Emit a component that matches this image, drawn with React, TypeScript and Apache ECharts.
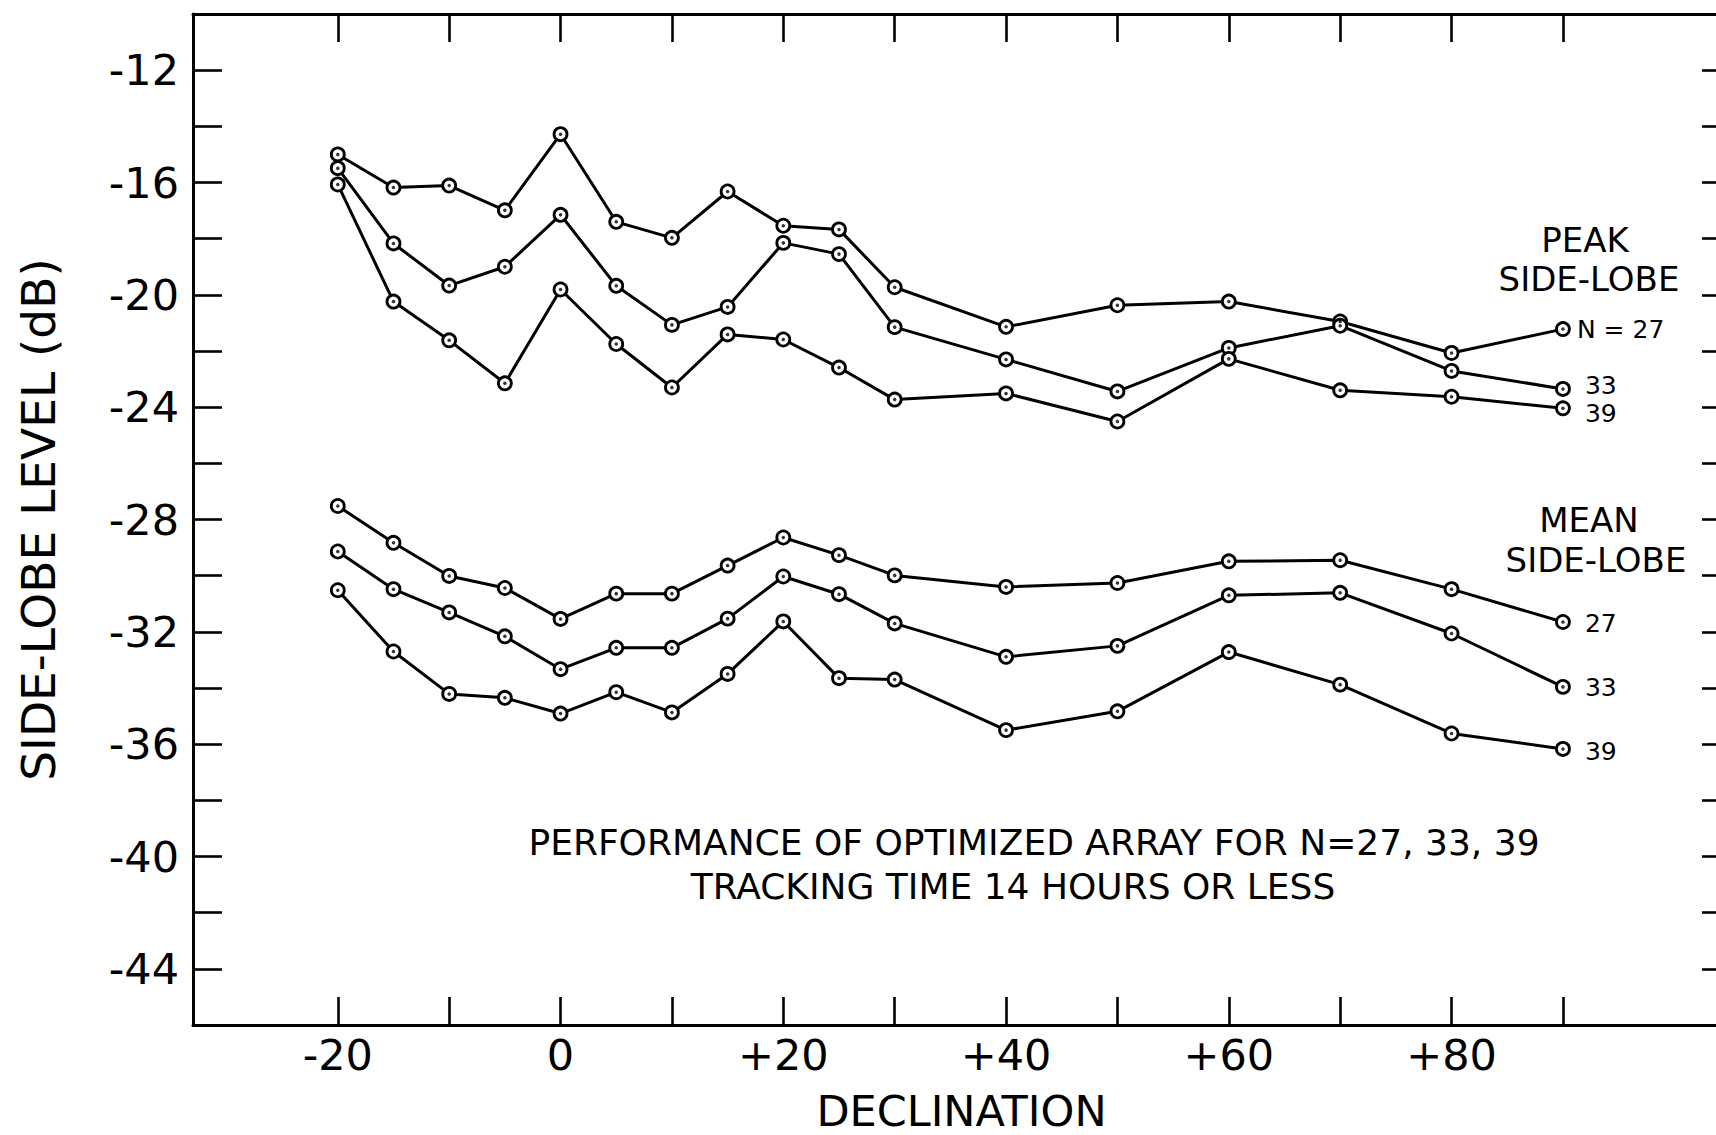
import React, { useEffect, useRef } from "react";
import * as echarts from "echarts";

const declination = [-20, -15, -10, -5, 0, 5, 10, 15, 20, 25, 30, 40, 50, 60, 70, 80, 90];

const peak27 = [-15.0, -16.18, -16.11, -16.99, -14.28, -17.4, -17.97, -16.32, -17.54, -17.67, -19.73, -21.14, -20.37, -20.24, -20.95, -22.07, -21.22];
const peak33 = [-15.49, -18.17, -19.67, -19.0, -17.15, -19.68, -21.07, -20.43, -18.15, -18.55, -21.15, -22.3, -23.44, -21.89, -21.1, -22.71, -23.35];
const peak39 = [-16.07, -20.24, -21.62, -23.15, -19.81, -21.75, -23.3, -21.41, -21.59, -22.59, -23.73, -23.51, -24.51, -22.28, -23.4, -23.63, -24.04];
const mean27 = [-27.52, -28.83, -30.01, -30.44, -31.54, -30.64, -30.64, -29.64, -28.64, -29.27, -29.99, -30.4, -30.26, -29.49, -29.45, -30.48, -31.65];
const mean33 = [-29.14, -30.48, -31.31, -32.16, -33.33, -32.57, -32.57, -31.53, -30.03, -30.66, -31.7, -32.89, -32.5, -30.7, -30.61, -32.06, -33.96];
const mean39 = [-30.52, -32.7, -34.21, -34.35, -34.91, -34.15, -34.87, -33.5, -31.63, -33.65, -33.7, -35.5, -34.83, -32.72, -33.88, -35.62, -36.17];

const seriesNames = ["Peak N=27", "Peak N=33", "Peak N=39", "Mean N=27", "Mean N=33", "Mean N=39"];
const endLabels = ["N = 27", "33", "39", "27", "33", "39"];

const xTickValues = [-20, -10, 0, 10, 20, 30, 40, 50, 60, 70, 80, 90];
const xLabelValues = [-20, 0, 20, 40, 60, 80];
const yTickValues = [-44, -42, -40, -38, -36, -34, -32, -30, -28, -26, -24, -22, -20, -18, -16, -14, -12];
const yLabelValues = [-44, -40, -36, -32, -28, -24, -20, -16, -12];

const FONT = "DejaVu Sans";

export default function App() {
  const ref = useRef<HTMLDivElement>(null);

  useEffect(() => {
    if (!ref.current) return;
    const chart = echarts.init(ref.current, undefined, { renderer: "svg" });

    const allSeries = [peak27, peak33, peak39, mean27, mean33, mean39];
    const labelDist = [14, 22, 22, 22, 22, 22];
    const labelOffset = [
      [0, 0],
      [0, -3],
      [0, 5],
      [0, 1],
      [0, 1],
      [0, 3],
    ];

    const lineSeries: any[] = [];
    allSeries.forEach((vals, i) => {
      const data = declination.map((d, j) => [d, vals[j]]);
      lineSeries.push({
        type: "line",
        name: seriesNames[i],
        data,
        symbol: "circle",
        symbolSize: 13,
        showAllSymbol: true,
        itemStyle: { color: "#fff", borderColor: "#000", borderWidth: 2.8 },
        lineStyle: { color: "#000", width: 3 },
        endLabel: {
          show: true,
          formatter: endLabels[i],
          distance: labelDist[i],
          offset: labelOffset[i],
          color: "#000",
          fontSize: 25,
          lineHeight: 20,
          fontFamily: FONT,
        },
        z: 3,
      });
      lineSeries.push({
        type: "scatter",
        name: seriesNames[i] + " centre",
        data,
        symbol: "circle",
        symbolSize: 3.5,
        itemStyle: { color: "#000" },
        silent: true,
        z: 5,
      });
    });

    const axisLine = { show: true, onZero: false, lineStyle: { color: "#000", width: 3 } };
    const tickStyle = { color: "#000", width: 2.6 };

    const textEl = (text: string, x: number, y: number, size: number) => ({
      type: "text",
      x,
      y,
      silent: true,
      style: {
        text,
        fill: "#000",
        font: `${size}px "${FONT}"`,
        lineHeight: Math.round(size * 0.9),
        align: "center",
        verticalAlign: "middle",
        textAlign: "center",
        textVerticalAlign: "middle",
      },
      z: 10,
    });

    chart.setOption({
      animation: false,
      backgroundColor: "#fff",
      grid: {
        left: 193,
        top: 14,
        width: 1537,
        height: 1011,
        containLabel: false,
        outerBoundsMode: "none",
        show: false,
      },
      xAxis: [
        {
          type: "value",
          position: "bottom",
          min: -33,
          max: 105,
          axisLine,
          axisTick: {
            show: true,
            inside: true,
            length: 28,
            customValues: xTickValues,
            lineStyle: tickStyle,
          },
          axisLabel: {
            show: true,
            customValues: xLabelValues,
            formatter: (v: number) => (v > 0 ? "+" + v : String(v)),
            fontSize: 43,
            fontFamily: FONT,
            color: "#000",
            margin: 8,
          },
          splitLine: { show: false },
          name: "DECLINATION",
          nameLocation: "middle",
          nameGap: 66,
          nameTextStyle: { fontSize: 43, lineHeight: 40, fontFamily: FONT, color: "#000" },
        },
        {
          type: "value",
          position: "top",
          min: -33,
          max: 105,
          axisLine,
          axisTick: {
            show: true,
            inside: true,
            length: 28,
            customValues: xTickValues,
            lineStyle: tickStyle,
          },
          axisLabel: { show: false },
          splitLine: { show: false },
        },
      ],
      yAxis: [
        {
          type: "value",
          position: "left",
          min: -46,
          max: -10,
          axisLine,
          axisTick: {
            show: true,
            inside: true,
            length: 29,
            customValues: yTickValues,
            lineStyle: tickStyle,
          },
          axisLabel: {
            show: true,
            customValues: yLabelValues,
            formatter: (v: number) => String(v),
            fontSize: 43,
            fontFamily: FONT,
            color: "#000",
            margin: 14,
          },
          splitLine: { show: false },
          name: "SIDE-LOBE LEVEL (dB)",
          nameLocation: "middle",
          nameGap: 131,
          nameTextStyle: { fontSize: 47, fontFamily: FONT, color: "#000" },
        },
        {
          type: "value",
          position: "right",
          min: -46,
          max: -10,
          axisLine,
          axisTick: {
            show: true,
            inside: true,
            length: 28,
            customValues: yTickValues,
            lineStyle: tickStyle,
          },
          axisLabel: { show: false },
          splitLine: { show: false },
        },
      ],
      graphic: [
        textEl("PEAK", 1585, 240, 34),
        textEl("SIDE-LOBE", 1589, 279, 34),
        textEl("MEAN", 1589, 520, 34),
        textEl("SIDE-LOBE", 1596, 560, 34),
        textEl("PERFORMANCE OF OPTIMIZED ARRAY FOR N=27, 33, 39", 1034, 842, 36),
        textEl("TRACKING TIME 14 HOURS OR LESS", 1013, 886, 36),
      ],
      series: lineSeries,
    });

    return () => {
      chart.dispose();
    };
  }, []);

  return (
    <div
      ref={ref}
      style={{ position: "absolute", left: 0, top: 0, width: 1716, height: 1135, background: "#fff" }}
    />
  );
}
